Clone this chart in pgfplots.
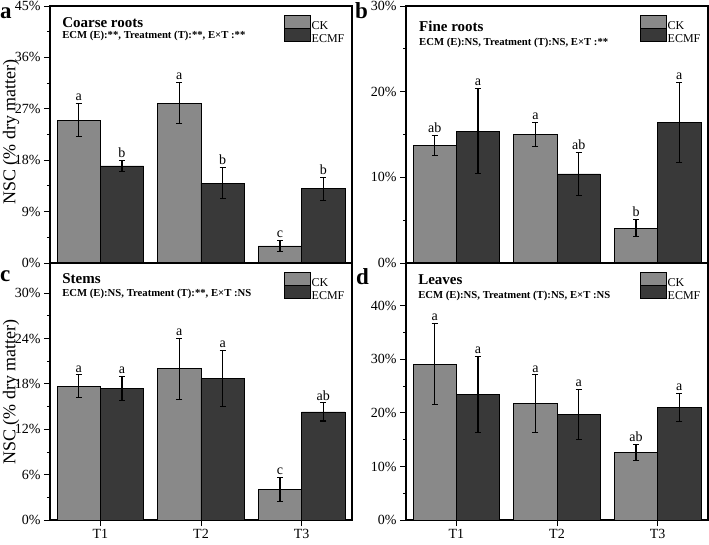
\documentclass[border=0pt]{standalone}
\usepackage{fontspec}
\setmainfont{Liberation Serif}
\usepackage{pgfplots}
\usepackage{pgfplotstable}
\pgfplotsset{compat=1.18}

\definecolor{ckgray}{RGB}{137,137,137}
\definecolor{ecmfgray}{RGB}{57,57,57}

% x  CK  err  letter  ECMF  err  letter
\pgfplotstableread{
x ck cke ckl ecmf ecmfe ecmfl
1 25.0 2.9 a 17.0 1.0 b
2 28.0 3.6 a 14.0 2.7 b
3 3.0 1.0 c 13.0 2.0 b
}\coarse
\pgfplotstableread{
x ck cke ckl ecmf ecmfe ecmfl
1 13.7 1.2 ab 15.4 5.0 a
2 15.0 1.4 a 10.4 2.5 ab
3 4.05 1.0 b 16.4 4.65 a
}\fine
\pgfplotstableread{
x ck cke ckl ecmf ecmfe ecmfl
1 17.7 1.5 a 17.4 1.55 a
2 20.0 4.0 a 18.7 3.7 a
3 4.0 1.6 c 14.3 1.2 ab
}\stems
\pgfplotstableread{
x ck cke ckl ecmf ecmfe ecmfl
1 29.1 7.6 a 23.4 7.1 a
2 21.7 5.4 a 19.7 4.7 a
3 12.6 1.5 ab 21.0 2.65 a
}\leaves

\tikzset{
  ptitle/.style={anchor=base west, inner sep=0pt, font=\bfseries\fontsize{15}{15}\selectfont},
  psub/.style={anchor=base west, inner sep=0pt, font=\bfseries\fontsize{10.7}{10.7}\selectfont},
  plabel/.style={anchor=base west, inner sep=0pt, font=\bfseries\fontsize{23}{23}\selectfont},
}

\pgfplotsset{
  panel/.style={
    scale only axis, width=302pt, height=257pt,
    xmin=0.5, xmax=3.5, ymin=0,
    axis line style={line width=1.1pt},
    tick style={black, line width=0.9pt},
    tick align=outside, tick pos=left,
    major tick length=6pt, minor tick length=3pt,
    minor y tick num=1,
    /pgf/number format/assume math mode=true,
    yticklabel={\pgfmathprintnumber{\tick}\%},
    tick label style={font=\fontsize{14}{14}\selectfont},
    clip=false,
    legend style={at={(0.977,0.965)}, anchor=north east, draw=none, fill=none,
      inner sep=0pt, row sep=-3pt, font=\fontsize{12}{12}\selectfont,
      nodes={inner sep=0.5pt},
      /tikz/every even column/.append style={column sep=3pt}},
    legend cell align=left,
  },
  ckbar/.style={ybar, bar width=0.43, bar shift=0pt, fill=ckgray, draw=black, line width=0.7pt,
    legend image code/.code={\draw[fill=ckgray, draw=black, line width=0.7pt] (0pt,-2.5pt) rectangle (26pt,10.5pt);},
    error bars/.cd, y dir=both, y explicit,
    error bar style={line width=1.1pt, black},
    error mark options={rotate=90, mark size=3pt, line width=1.1pt, black}},
  ecmfbar/.style={ybar, bar width=0.43, bar shift=0pt, fill=ecmfgray, draw=black, line width=0.7pt,
    legend image code/.code={\draw[fill=ecmfgray, draw=black, line width=0.7pt] (0pt,-2.5pt) rectangle (26pt,10.5pt);},
    error bars/.cd, y dir=both, y explicit,
    error bar style={line width=1.1pt, black},
    error mark options={rotate=90, mark size=3pt, line width=1.1pt, black}},
  letters/.style={ybar, bar width=0.43, bar shift=0pt, draw=none, fill=none, forget plot,
    nodes near coords, point meta=explicit symbolic,
    every node near coord/.append style={font=\fontsize{14}{14}\selectfont, black, inner sep=2.5pt}},
}

\begin{document}
\begin{tikzpicture}
\useasboundingbox (0pt,0pt) rectangle (709pt,544pt);

% a: coarse roots
\begin{axis}[panel, at={(50pt,281pt)}, ymax=45, ytick={0,9,...,45}, xtick=\empty]
  \addplot[ckbar] table[x expr=\thisrow{x}-0.215, y=ck, y error=cke]{\coarse};
  \addplot[ecmfbar] table[x expr=\thisrow{x}+0.215, y=ecmf, y error=ecmfe]{\coarse};
  \addplot[letters] table[x expr=\thisrow{x}-0.215, y expr=\thisrow{ck}+\thisrow{cke}, meta=ckl]{\coarse};
  \addplot[letters] table[x expr=\thisrow{x}+0.215, y expr=\thisrow{ecmf}+\thisrow{ecmfe}, meta=ecmfl]{\coarse};
  \legend{CK, ECMF}
  \node[ptitle] at (rel axis cs:0.04,0.918) {Coarse roots};
  \node[psub] at (rel axis cs:0.04,0.874) {ECM (E):**, Treatment (T):**, E×T :**};
\end{axis}

% b: fine roots
\begin{axis}[panel, at={(406pt,281pt)}, ymax=30, ytick={0,10,20,30}, xtick=\empty]
  \addplot[ckbar] table[x expr=\thisrow{x}-0.215, y=ck, y error=cke]{\fine};
  \addplot[ecmfbar] table[x expr=\thisrow{x}+0.215, y=ecmf, y error=ecmfe]{\fine};
  \addplot[letters] table[x expr=\thisrow{x}-0.215, y expr=\thisrow{ck}+\thisrow{cke}, meta=ckl]{\fine};
  \addplot[letters] table[x expr=\thisrow{x}+0.215, y expr=\thisrow{ecmf}+\thisrow{ecmfe}, meta=ecmfl]{\fine};
  \legend{CK, ECMF}
  \node[ptitle] at (rel axis cs:0.043,0.90) {Fine roots};
  \node[psub] at (rel axis cs:0.043,0.848) {ECM (E):NS, Treatment (T):NS, E×T :**};
\end{axis}

% c: stems
\begin{axis}[panel, at={(50pt,24pt)}, ymax=34, ytick={0,6,...,30},
  xtick={1,2,3}, xticklabels={T1,T2,T3}]
  \addplot[ckbar] table[x expr=\thisrow{x}-0.215, y=ck, y error=cke]{\stems};
  \addplot[ecmfbar] table[x expr=\thisrow{x}+0.215, y=ecmf, y error=ecmfe]{\stems};
  \addplot[letters] table[x expr=\thisrow{x}-0.215, y expr=\thisrow{ck}+\thisrow{cke}, meta=ckl]{\stems};
  \addplot[letters] table[x expr=\thisrow{x}+0.215, y expr=\thisrow{ecmf}+\thisrow{ecmfe}, meta=ecmfl]{\stems};
  \legend{CK, ECMF}
  \node[ptitle] at (rel axis cs:0.04,0.921) {Stems};
  \node[psub] at (rel axis cs:0.04,0.869) {ECM (E):NS, Treatment (T):**, E×T :NS};
\end{axis}

% d: leaves
\begin{axis}[panel, at={(406pt,24pt)}, ymax=48, ytick={0,10,...,40},
  xtick={1,2,3}, xticklabels={T1,T2,T3}]
  \addplot[ckbar] table[x expr=\thisrow{x}-0.215, y=ck, y error=cke]{\leaves};
  \addplot[ecmfbar] table[x expr=\thisrow{x}+0.215, y=ecmf, y error=ecmfe]{\leaves};
  \addplot[letters] table[x expr=\thisrow{x}-0.215, y expr=\thisrow{ck}+\thisrow{cke}, meta=ckl]{\leaves};
  \addplot[letters] table[x expr=\thisrow{x}+0.215, y expr=\thisrow{ecmf}+\thisrow{ecmfe}, meta=ecmfl]{\leaves};
  \legend{CK, ECMF}
  \node[ptitle] at (rel axis cs:0.04,0.918) {Leaves};
  \node[psub] at (rel axis cs:0.04,0.863) {ECM (E):NS, Treatment (T):NS, E×T :NS};
\end{axis}

% panel letters and y labels
\node[plabel] at (0pt,525pt) {a};
\node[plabel] at (355pt,525pt) {b};
\node[plabel] at (0pt,262pt) {c};
\node[plabel] at (356pt,259pt) {d};
\node[rotate=90, font=\fontsize{18}{18}\selectfont] at (11pt,412pt) {NSC (\% dry matter)};
\node[rotate=90, font=\fontsize{18}{18}\selectfont] at (11pt,152pt) {NSC (\% dry matter)};
\end{tikzpicture}
\end{document}
